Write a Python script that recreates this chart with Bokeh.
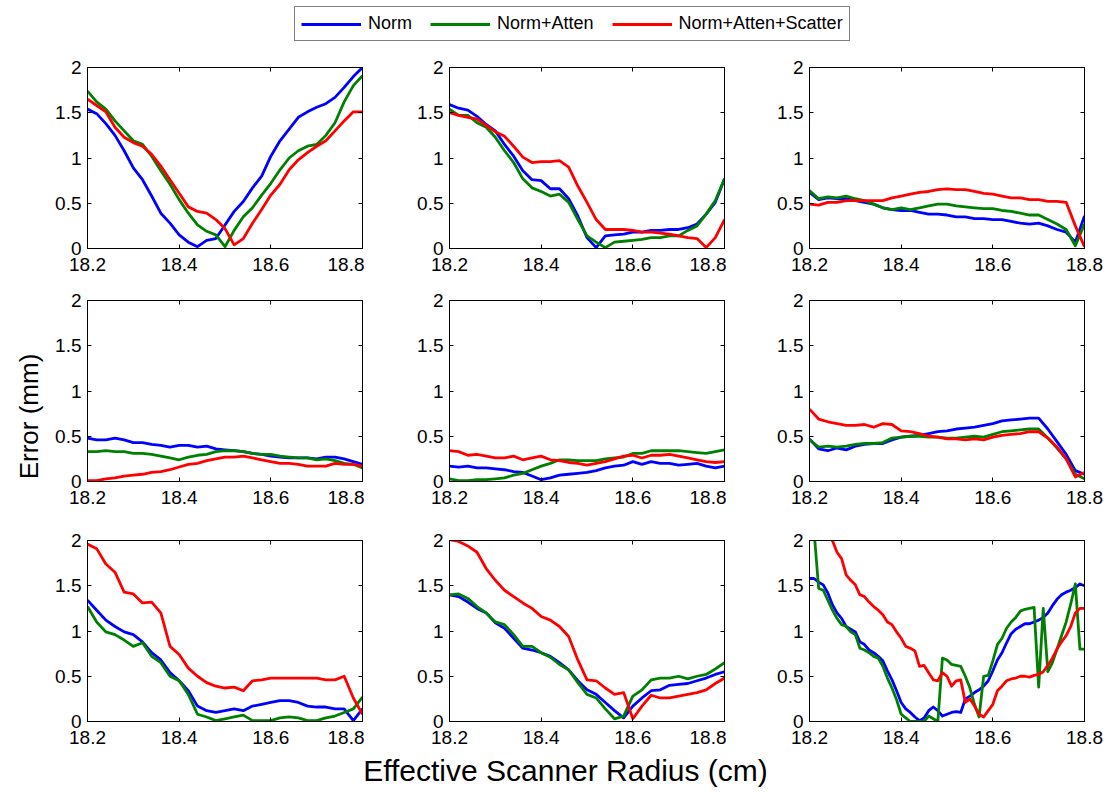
import numpy as np
from bokeh.plotting import figure
from bokeh.layouts import row, column
from bokeh.models import (Range1d, FixedTicker, LinearAxis, Legend, LegendItem, Label,
                          NumeralTickFormatter, CustomJSTickFormatter)
from bokeh.embed import file_html
from bokeh.resources import INLINE

FONT = "Liberation Sans"
SERIES = ["Norm", "Norm+Atten", "Norm+Atten+Scatter"]
COLORS = ["#0000FF", "#008000", "#FF0000"]
X_TICKS = [18.2, 18.4, 18.6, 18.8]
Y_TICKS = [0, 0.5, 1, 1.5, 2]
X_LABEL = "Effective Scanner Radius (cm)"
Y_LABEL = "Error (mm)"

RADIUS = [18.20, 18.22, 18.24, 18.26, 18.28, 18.30, 18.32, 18.34, 18.36, 18.38,
          18.40, 18.42, 18.44, 18.46, 18.48, 18.50, 18.52, 18.54, 18.56, 18.58,
          18.60, 18.62, 18.64, 18.66, 18.68, 18.70, 18.72, 18.74, 18.76, 18.78, 18.80]
RADIUS_FINE = [18.20, 18.21, 18.22, 18.23, 18.24, 18.25, 18.26, 18.27, 18.28, 18.29,
               18.30, 18.31, 18.32, 18.33, 18.34, 18.35, 18.36, 18.37, 18.38, 18.39,
               18.40, 18.41, 18.42, 18.43, 18.44, 18.45, 18.46, 18.47, 18.48, 18.49,
               18.50, 18.51, 18.52, 18.53, 18.54, 18.55, 18.56, 18.57, 18.58, 18.59,
               18.60, 18.61, 18.62, 18.63, 18.64, 18.65, 18.66, 18.67, 18.68, 18.69,
               18.70, 18.71, 18.72, 18.73, 18.74, 18.75, 18.76, 18.77, 18.78, 18.79, 18.80]

P1_NORM = [1.54, 1.49, 1.38, 1.25, 1.08, 0.89, 0.76, 0.58, 0.39, 0.28, 0.15, 0.07, 0.02, 0.09, 0.11,
           0.26, 0.41, 0.52, 0.67, 0.80, 1.02, 1.19, 1.32, 1.45, 1.51, 1.56, 1.60, 1.67, 1.78, 1.90, 2.00]
P1_ATTEN = [1.74, 1.62, 1.54, 1.41, 1.30, 1.19, 1.15, 1.02, 0.86, 0.71, 0.54, 0.39, 0.26, 0.19, 0.15,
            0.02, 0.20, 0.35, 0.45, 0.59, 0.72, 0.87, 1.00, 1.08, 1.13, 1.15, 1.25, 1.39, 1.62, 1.80, 1.91]
P1_SCATTER = [1.65, 1.58, 1.51, 1.34, 1.23, 1.17, 1.13, 1.04, 0.91, 0.76, 0.61, 0.46, 0.41, 0.39, 0.32,
              0.22, 0.04, 0.11, 0.28, 0.43, 0.59, 0.71, 0.87, 0.98, 1.06, 1.13, 1.19, 1.30, 1.41, 1.51, 1.51]

P2_NORM = [1.59, 1.55, 1.53, 1.46, 1.37, 1.30, 1.15, 1.02, 0.86, 0.76, 0.75, 0.66, 0.66, 0.55, 0.36,
           0.12, 0.01, 0.14, 0.15, 0.16, 0.18, 0.18, 0.20, 0.20, 0.21, 0.21, 0.23, 0.27, 0.38, 0.51, 0.77]
P2_ATTEN = [1.54, 1.47, 1.47, 1.39, 1.34, 1.23, 1.08, 0.95, 0.77, 0.67, 0.63, 0.58, 0.60, 0.51, 0.32,
            0.14, 0.07, 0.01, 0.07, 0.08, 0.09, 0.10, 0.12, 0.12, 0.14, 0.14, 0.20, 0.25, 0.38, 0.53, 0.77]
P2_SCATTER = [1.50, 1.47, 1.45, 1.43, 1.36, 1.29, 1.24, 1.13, 1.01, 0.95, 0.96, 0.96, 0.97, 0.90, 0.69,
              0.51, 0.32, 0.21, 0.21, 0.21, 0.20, 0.18, 0.18, 0.17, 0.16, 0.14, 0.12, 0.11, 0.01, 0.12, 0.32]

P3_NORM = [0.62, 0.54, 0.56, 0.55, 0.55, 0.53, 0.51, 0.49, 0.45, 0.43, 0.42, 0.42, 0.40, 0.38, 0.38,
           0.37, 0.35, 0.35, 0.33, 0.33, 0.32, 0.32, 0.30, 0.28, 0.27, 0.28, 0.25, 0.21, 0.18, 0.07, 0.36]
P3_ATTEN = [0.64, 0.55, 0.57, 0.56, 0.58, 0.55, 0.53, 0.49, 0.45, 0.43, 0.45, 0.43, 0.45, 0.47, 0.49,
            0.49, 0.47, 0.46, 0.45, 0.44, 0.44, 0.42, 0.41, 0.39, 0.37, 0.37, 0.32, 0.27, 0.21, 0.03, 0.27]
P3_SCATTER = [0.49, 0.48, 0.51, 0.51, 0.53, 0.53, 0.53, 0.53, 0.53, 0.56, 0.58, 0.60, 0.62, 0.63, 0.65,
              0.66, 0.65, 0.65, 0.63, 0.61, 0.60, 0.58, 0.56, 0.56, 0.54, 0.54, 0.52, 0.52, 0.51, 0.25, 0.02]

P4_NORM = [0.48, 0.46, 0.46, 0.48, 0.46, 0.43, 0.43, 0.41, 0.40, 0.38, 0.40, 0.40, 0.38, 0.39, 0.36,
           0.35, 0.34, 0.33, 0.31, 0.30, 0.28, 0.27, 0.26, 0.26, 0.26, 0.25, 0.27, 0.27, 0.25, 0.22, 0.19]
P4_ATTEN = [0.33, 0.33, 0.34, 0.33, 0.33, 0.31, 0.31, 0.30, 0.28, 0.26, 0.24, 0.27, 0.29, 0.30, 0.33,
            0.34, 0.34, 0.33, 0.31, 0.30, 0.30, 0.28, 0.27, 0.26, 0.26, 0.24, 0.25, 0.23, 0.20, 0.19, 0.15]
P4_SCATTER = [0.01, 0.01, 0.03, 0.04, 0.06, 0.07, 0.08, 0.10, 0.11, 0.13, 0.16, 0.19, 0.20, 0.23, 0.25,
              0.27, 0.27, 0.28, 0.26, 0.24, 0.22, 0.20, 0.20, 0.19, 0.17, 0.17, 0.17, 0.20, 0.19, 0.19, 0.17]

P5_NORM = [0.17, 0.16, 0.17, 0.15, 0.15, 0.14, 0.13, 0.11, 0.10, 0.06, 0.02, 0.04, 0.07, 0.08, 0.09,
           0.10, 0.12, 0.15, 0.17, 0.18, 0.22, 0.19, 0.22, 0.20, 0.20, 0.18, 0.19, 0.20, 0.17, 0.15, 0.17]
P5_ATTEN = [0.03, 0.01, 0.01, 0.02, 0.02, 0.03, 0.04, 0.07, 0.09, 0.13, 0.17, 0.20, 0.24, 0.24, 0.23,
            0.23, 0.23, 0.25, 0.26, 0.27, 0.31, 0.31, 0.34, 0.34, 0.34, 0.34, 0.33, 0.32, 0.31, 0.33, 0.35]
P5_SCATTER = [0.34, 0.33, 0.29, 0.30, 0.28, 0.26, 0.26, 0.28, 0.24, 0.26, 0.28, 0.24, 0.23, 0.21, 0.20,
              0.18, 0.20, 0.22, 0.25, 0.28, 0.29, 0.26, 0.29, 0.29, 0.30, 0.28, 0.26, 0.24, 0.22, 0.21, 0.22]

P6_NORM = [0.47, 0.36, 0.34, 0.37, 0.35, 0.39, 0.41, 0.42, 0.42, 0.46, 0.49, 0.50, 0.51, 0.53, 0.55,
           0.56, 0.58, 0.59, 0.60, 0.62, 0.64, 0.67, 0.68, 0.69, 0.70, 0.70, 0.58, 0.44, 0.30, 0.12, 0.08]
P6_ATTEN = [0.46, 0.38, 0.39, 0.38, 0.39, 0.41, 0.42, 0.42, 0.43, 0.48, 0.49, 0.50, 0.50, 0.49, 0.49,
            0.48, 0.48, 0.49, 0.50, 0.49, 0.52, 0.55, 0.56, 0.57, 0.58, 0.58, 0.48, 0.37, 0.25, 0.08, 0.03]
P6_SCATTER = [0.80, 0.69, 0.66, 0.64, 0.62, 0.62, 0.63, 0.60, 0.64, 0.63, 0.56, 0.55, 0.53, 0.50, 0.49,
              0.47, 0.47, 0.46, 0.47, 0.46, 0.49, 0.51, 0.52, 0.53, 0.55, 0.55, 0.48, 0.38, 0.25, 0.05, 0.10]

P7_NORM = [1.34, 1.23, 1.12, 1.05, 0.99, 0.96, 0.88, 0.76, 0.68, 0.54, 0.45, 0.34, 0.17, 0.12, 0.10,
           0.12, 0.14, 0.12, 0.17, 0.19, 0.21, 0.23, 0.23, 0.21, 0.17, 0.16, 0.16, 0.14, 0.14, 0.01, 0.14]
P7_ATTEN = [1.27, 1.10, 0.99, 0.96, 0.90, 0.83, 0.87, 0.72, 0.65, 0.50, 0.45, 0.30, 0.08, 0.05, 0.01,
            0.03, 0.05, 0.07, 0.01, 0.01, 0.01, 0.04, 0.05, 0.04, 0.01, 0.01, 0.04, 0.06, 0.10, 0.14, 0.27]
P7_SCATTER = [1.96, 1.91, 1.74, 1.65, 1.43, 1.41, 1.31, 1.32, 1.20, 0.83, 0.74, 0.59, 0.50, 0.43, 0.39,
              0.37, 0.38, 0.34, 0.45, 0.46, 0.48, 0.48, 0.48, 0.48, 0.48, 0.48, 0.46, 0.46, 0.50, 0.26, 0.08]

P8_NORM = [1.40, 1.38, 1.32, 1.25, 1.20, 1.09, 1.03, 0.92, 0.81, 0.79, 0.76, 0.72, 0.65, 0.57, 0.45,
           0.35, 0.30, 0.21, 0.12, 0.04, 0.17, 0.26, 0.34, 0.35, 0.40, 0.41, 0.42, 0.45, 0.48, 0.52, 0.55]
P8_ATTEN = [1.40, 1.41, 1.36, 1.27, 1.20, 1.10, 1.07, 0.96, 0.83, 0.83, 0.76, 0.71, 0.63, 0.57, 0.43,
            0.30, 0.26, 0.14, 0.03, 0.06, 0.28, 0.35, 0.46, 0.48, 0.48, 0.50, 0.47, 0.50, 0.52, 0.58, 0.65]
P8_SCATTER = [2.01, 1.99, 1.94, 1.87, 1.69, 1.56, 1.45, 1.38, 1.31, 1.25, 1.16, 1.12, 1.05, 0.94, 0.68,
              0.46, 0.45, 0.37, 0.30, 0.32, 0.03, 0.17, 0.29, 0.26, 0.26, 0.28, 0.30, 0.32, 0.35, 0.42, 0.48]

P9_NORM = [1.58, 1.58, 1.54, 1.51, 1.42, 1.29, 1.20, 1.14, 1.05, 1.02,
           0.99, 0.88, 0.85, 0.79, 0.76, 0.72, 0.67, 0.56, 0.46, 0.34,
           0.21, 0.14, 0.10, 0.05, 0.01, 0.04, 0.12, 0.16, 0.12, 0.06,
           0.08, 0.10, 0.11, 0.10, 0.25, 0.28, 0.32, 0.35, 0.39, 0.45,
           0.56, 0.68, 0.76, 0.87, 0.97, 1.02, 1.05, 1.08, 1.08, 1.10,
           1.12, 1.15, 1.20, 1.28, 1.35, 1.40, 1.43, 1.45, 1.48, 1.52, 1.50]
P9_ATTEN = [2.30, 2.10, 1.47, 1.45, 1.34, 1.23, 1.14, 1.07, 1.05, 0.99,
            0.96, 0.81, 0.79, 0.76, 0.72, 0.70, 0.61, 0.48, 0.37, 0.24,
            0.08, 0.04, 0.00, 0.00, 0.00, 0.00, 0.06, 0.03, 0.00, 0.70,
            0.68, 0.63, 0.62, 0.61, 0.50, 0.37, 0.19, 0.05, 0.50, 0.51,
            0.67, 0.85, 0.92, 1.03, 1.10, 1.15, 1.22, 1.24, 1.25, 1.26,
            0.38, 1.25, 0.55, 0.65, 0.80, 0.95, 1.10, 1.30, 1.52, 0.80, 0.80]
P9_SCATTER = [2.35, 2.28, 2.20, 2.13, 2.06, 2.00, 1.87, 1.80, 1.62, 1.56,
              1.51, 1.40, 1.38, 1.32, 1.27, 1.23, 1.18, 1.10, 1.07, 0.99,
              0.92, 0.83, 0.81, 0.78, 0.61, 0.62, 0.54, 0.46, 0.45, 0.54,
              0.50, 0.39, 0.45, 0.46, 0.21, 0.25, 0.17, 0.08, 0.05, 0.12,
              0.19, 0.34, 0.39, 0.45, 0.47, 0.48, 0.50, 0.50, 0.49, 0.51,
              0.52, 0.55, 0.62, 0.70, 0.80, 0.88, 0.95, 1.05, 1.20, 1.25, 1.25]

PANELS = [
    (RADIUS, [P1_NORM, P1_ATTEN, P1_SCATTER]),
    (RADIUS, [P2_NORM, P2_ATTEN, P2_SCATTER]),
    (RADIUS, [P3_NORM, P3_ATTEN, P3_SCATTER]),
    (RADIUS, [P4_NORM, P4_ATTEN, P4_SCATTER]),
    (RADIUS, [P5_NORM, P5_ATTEN, P5_SCATTER]),
    (RADIUS, [P6_NORM, P6_ATTEN, P6_SCATTER]),
    (RADIUS, [P7_NORM, P7_ATTEN, P7_SCATTER]),
    (RADIUS, [P8_NORM, P8_ATTEN, P8_SCATTER]),
    (RADIUS_FINE, [P9_NORM, P9_ATTEN, P9_SCATTER]),
]

# layout geometry (pixels)
TOTAL_W, TOTAL_H = 1109, 792
LEG_H = 50
YLAB_W = 45
COL_W = [319, 362, 383]
COL_LEFT = [42, 85, 83]
COL_RIGHT = [2, 2, 25]
ROW_TOP = [17, 24, 31]
ROW_BOTTOM = 28
FRAME_H = 181
GRID_H = sum(ROW_TOP) + 3 * (FRAME_H + ROW_BOTTOM)
XLAB_H = TOTAL_H - LEG_H - GRID_H
LINE_W = 2.8

BLANK = CustomJSTickFormatter(code="return ''")


def style_axis(ax, labels=True):
    ax.axis_line_color = "black"
    ax.axis_line_width = 1
    ax.major_tick_line_color = "black"
    ax.major_tick_in = 4
    ax.major_tick_out = 0
    ax.minor_tick_in = 0
    ax.minor_tick_out = 0
    ax.major_label_text_font = FONT
    ax.major_label_text_color = "black"
    if labels:
        ax.major_label_text_font_size = "19px"
    else:
        ax.major_label_text_font_size = "0px"
        ax.major_label_standoff = 0


def make_panel(xs, ys_list, col, rw):
    p = figure(width=COL_W[col], height=ROW_TOP[rw] + FRAME_H + ROW_BOTTOM,
               x_range=Range1d(18.2, 18.8), y_range=Range1d(0, 2),
               min_border_left=COL_LEFT[col], min_border_right=COL_RIGHT[col],
               min_border_top=ROW_TOP[rw], min_border_bottom=ROW_BOTTOM,
               toolbar_location=None, output_backend="svg")
    p.xgrid.visible = False
    p.ygrid.visible = False
    p.outline_line_color = "black"
    p.outline_line_width = 1
    p.xaxis.ticker = FixedTicker(ticks=X_TICKS)
    p.yaxis.ticker = FixedTicker(ticks=Y_TICKS)
    p.xaxis.formatter = NumeralTickFormatter(format="0.0")
    p.yaxis.formatter = NumeralTickFormatter(format="0.[0]")
    style_axis(p.xaxis[0])
    style_axis(p.yaxis[0])
    p.xaxis.major_label_standoff = 9
    p.yaxis.major_label_standoff = 6
    top = LinearAxis(ticker=FixedTicker(ticks=X_TICKS), formatter=BLANK)
    style_axis(top, labels=False)
    p.add_layout(top, "above")
    right = LinearAxis(ticker=FixedTicker(ticks=Y_TICKS), formatter=BLANK)
    style_axis(right, labels=False)
    p.add_layout(right, "right")
    for ys, c in zip(ys_list, COLORS):
        p.line(xs, ys, line_color=c, line_width=LINE_W, line_join="round")
    return p


# legend strip (the sample lines sit outside the visible range; only the legend shows them)
leg = figure(width=TOTAL_W, height=LEG_H, x_range=Range1d(0, 1), y_range=Range1d(0, 1),
             x_axis_type=None, y_axis_type=None, min_border=0, outline_line_color=None,
             toolbar_location=None, output_backend="svg")
items = []
for name, c in zip(SERIES, COLORS):
    r = leg.line([5, 6], [5, 5], line_color=c, line_width=LINE_W)
    items.append(LegendItem(label=name, renderers=[r]))
legend = Legend(items=items, orientation="horizontal", location=(294, 9),
                border_line_color="black", border_line_width=1,
                background_fill_color="white", background_fill_alpha=1,
                label_text_font=FONT, label_text_font_size="18px", label_text_color="black",
                glyph_width=60, glyph_height=20, label_height=20, label_standoff=7,
                spacing=18, padding=6, margin=0)
leg.add_layout(legend)

# y label strip
ylab = figure(width=YLAB_W, height=GRID_H, x_range=Range1d(0, YLAB_W), y_range=Range1d(0, GRID_H),
              x_axis_type=None, y_axis_type=None, min_border=0, outline_line_color=None,
              toolbar_location=None, output_backend="svg")
ylab.add_layout(Label(x=28, y=LEG_H + GRID_H - 416, text=Y_LABEL, angle=np.pi / 2,
                      text_align="center", text_baseline="middle",
                      text_font=FONT, text_font_size="26px", text_color="black"))

# x label strip
xlab = figure(width=TOTAL_W, height=XLAB_H, x_range=Range1d(0, TOTAL_W), y_range=Range1d(0, XLAB_H),
              x_axis_type=None, y_axis_type=None, min_border=0, outline_line_color=None,
              toolbar_location=None, output_backend="svg")
xlab.add_layout(Label(x=565, y=22, text=X_LABEL, text_align="center", text_baseline="middle",
                      text_font=FONT, text_font_size="30px", text_color="black"))

rows = []
for rw in range(3):
    figs = [make_panel(PANELS[rw * 3 + c][0], PANELS[rw * 3 + c][1], c, rw) for c in range(3)]
    rows.append(row(*figs, spacing=0))
grid = column(*rows, spacing=0)
middle = row(ylab, grid, spacing=0)
layout = column(leg, middle, xlab, spacing=0)

open("out.html", "w").write(file_html(layout, INLINE))
